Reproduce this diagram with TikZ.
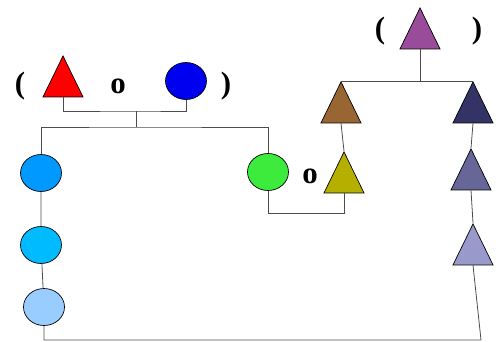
\documentclass[tikz,border=0pt]{standalone}
\usepackage{fontspec}
\setmainfont{Liberation Serif}
\usetikzlibrary{shapes.geometric}
\definecolor{cRed}{HTML}{FF0000}
\definecolor{cBlue}{HTML}{0000F0}
\definecolor{cSky}{HTML}{0099FF}
\definecolor{cCyan}{HTML}{00BBFF}
\definecolor{cPale}{HTML}{99CCFF}
\definecolor{cGreen}{HTML}{3CEB3C}
\definecolor{cOlive}{HTML}{B5B000}
\definecolor{cBrown}{HTML}{996633}
\definecolor{cNavy}{HTML}{333366}
\definecolor{cSlate}{HTML}{666699}
\definecolor{cLilac}{HTML}{9999CC}
\definecolor{cPurple}{HTML}{994C99}
\tikzset{
    tri/.style={draw, fill=#1, isosceles triangle, isosceles triangle stretches, shape border rotate=90,
        minimum width=40bp, minimum height=41bp, inner sep=0pt, anchor=apex},
    oval/.style={draw, fill=#1, ellipse, minimum width=41bp, minimum height=37bp, inner sep=0pt},
    sym/.style={font=\bfseries\fontsize{31}{34}\selectfont, inner sep=0pt},
    wire/.style={black!70, line width=0.8pt}
}

\begin{document}
\begin{tikzpicture}[x=1bp, y=-1bp, line width=0.7pt]
    \useasboundingbox (0, 0) rectangle (496, 341);
    % left pair
    \node[sym](lpA)at(20, 86){(};
    \node[tri=cRed](red)at(63, 55){};
    \node[sym](opA)at(118, 86){o};
    \node[oval=cBlue](blue)at(186, 81){};
    \node[sym](rpA)at(226, 86){)};
    % left column
    \node[oval=cSky](sky)at(41, 173){};
    \node[oval=cCyan](cyan)at(41, 245){};
    \node[oval=cPale](pale)at(44, 307){};
    % middle pair
    \node[oval=cGreen](green)at(268, 172){};
    \node[sym](opB)at(310, 176){o};
    \node[tri=cOlive](olive)at(344, 151){};
    % right tree
    \node[sym](lpB)at(380, 31){(};
    \node[tri=cPurple](purple)at(420, 7){};
    \node[sym](rpB)at(477, 31){)};
    \node[tri=cBrown](brown)at(341, 81){};
    \node[tri=cNavy](navy)at(473, 81){};
    \node[tri=cSlate](slate)at(471, 148){};
    \node[tri=cLilac](lilac)at(473, 223){};
    \coordinate(pairtop)at(136, 111);
    \coordinate(pairbot)at(136, 127);
    \coordinate(corner)at(481, 340);
    % connectors
    \draw[wire](red.lower side)|-(pairtop)-|(blue.south);
    \draw[wire](pairtop)--(pairbot);
    \draw[wire](sky.north)|-(pairbot)-|(green.north);
    \draw[wire](sky)--(cyan)--(pale);
    \draw[wire](pale.south)|-(corner)--(lilac.lower side);
    \draw[wire](green.south)--++(0, 23)-|(olive.lower side);
    \draw[wire](brown.lower side)--(olive.apex);
    \draw[wire](brown.apex)--(navy.apex);
    \draw[wire](purple.lower side)--(purple.lower side|-navy.apex);
    \draw[wire](navy.lower side)--(slate.apex);
    \draw[wire](slate.lower side)--(lilac.apex);
\end{tikzpicture}
\end{document}
